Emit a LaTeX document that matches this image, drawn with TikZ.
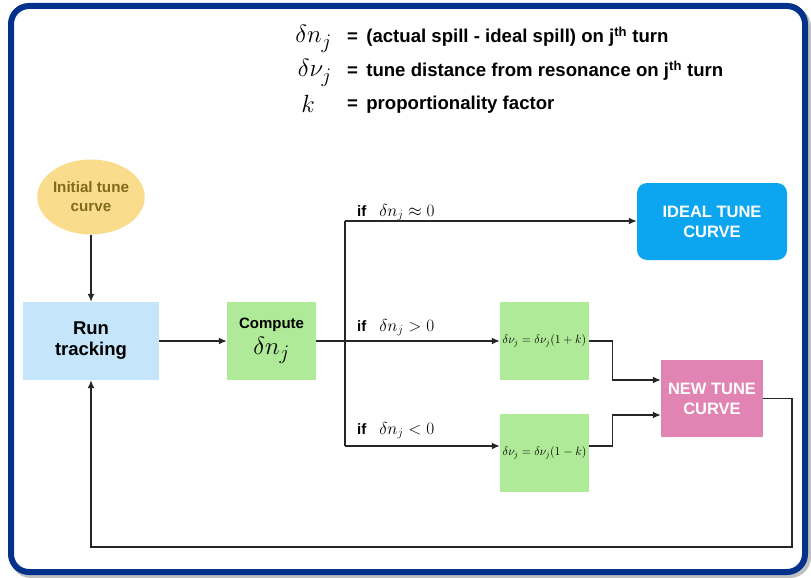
\documentclass[tikz,border=0pt]{standalone}
\usepackage{fontspec}
\setmainfont{Liberation Sans}
\usetikzlibrary{arrows.meta,shapes.geometric}
\definecolor{frameblue}{RGB}{4,50,138}
\definecolor{goldfill}{RGB}{249,220,140}
\definecolor{goldtext}{RGB}{128,106,30}
\definecolor{runblue}{RGB}{197,230,250}
\definecolor{stepgreen}{RGB}{174,234,152}
\definecolor{idealblue}{RGB}{12,166,240}
\definecolor{newpink}{RGB}{226,132,179}
\newcommand{\fs}[2]{\fontsize{#1}{#2}\selectfont}
\begin{document}
\begin{tikzpicture}[x=1pt,y=-1pt,
  box/.style={draw=none,inner sep=0pt,align=center,font=\bfseries},
  conn/.style={line width=1.4pt,black!85},
  arr/.style={conn,-{Latex[length=8pt,width=7pt]}},
  cond/.style={anchor=base west,inner sep=0pt},
  legend/.style={anchor=base west,inner sep=0pt,font=\bfseries\fs{18.6}{21}}]
\useasboundingbox (0,0) rectangle (811,578);
% outer frame with soft shadow
\draw[line width=6pt,black!25,rounded corners=18pt] (13,9) rectangle (808,575);
\draw[line width=6pt,frameblue,fill=white,rounded corners=18pt] (11,6) rectangle (805,572);

% definitions
\node[anchor=base east,inner sep=0pt] (dn) at (332,43) {\fs{29}{30}$\delta n_j$};
\node[anchor=base east,inner sep=0pt] (dv) at (332,77) {\fs{29}{30}$\delta \nu_j$};
\node[anchor=base east,inner sep=0pt] (kk) at (315,112) {\fs{29}{30}$k$};
\node[legend] (d1) at (347,43) {= \,(actual spill - ideal spill) on j\textsuperscript{th} turn};
\node[legend] (d2) at (347,77) {= \,tune distance from resonance on j\textsuperscript{th} turn};
\node[legend] (d3) at (347,110) {= \,proportionality factor};

% flow nodes
\node[ellipse,fill=goldfill,minimum width=88pt,minimum height=75pt,inner sep=0pt,align=center,
      font=\bfseries\fs{15.2}{19},text=goldtext] (init) at (91,197) {Initial tune\\curve};
\node[box,fill=runblue,minimum width=136pt,minimum height=78pt,font=\bfseries\fs{18.5}{21}] (run) at (91,341) {Run\\tracking};
\node[box,fill=stepgreen,minimum width=89pt,minimum height=78pt] (comp) at (271.5,341)
  {\fs{15}{18}Compute\\[5pt]\fs{32}{30}\mdseries$\delta n_j$};
\node[box,fill=idealblue,rounded corners=10pt,minimum width=150pt,minimum height=77pt,
      text=white,font=\bfseries\fs{16.5}{20}] (ideal) at (712,221.5) {IDEAL TUNE\\CURVE};
\node[box,fill=stepgreen,minimum width=89pt,minimum height=78pt,font=\fs{11.5}{13}] (g1) at (544.5,341)
  {$\delta\nu_j = \delta\nu_j(1+k)$};
\node[box,fill=stepgreen,minimum width=89pt,minimum height=78pt,font=\fs{11.5}{13}] (g2) at (544.5,453)
  {$\delta\nu_j = \delta\nu_j(1-k)$};
\node[box,fill=newpink,minimum width=102pt,minimum height=77pt,
      text=white,font=\bfseries\fs{16.5}{20}] (newt) at (712,398.5) {NEW TUNE\\CURVE};

% branch points
\coordinate (br) at (345,341);
\coordinate (btop) at (345,221);
\coordinate (bbot) at (345,446);
\coordinate (fb) at (792,547);

% condition labels
\node[cond] (c1) at (357,216) {\bfseries\fs{15}{16}if\hspace{13pt}\mdseries\fs{16.5}{18}$\delta n_j \approx 0$};
\node[cond] (c2) at (357,331) {\bfseries\fs{15}{16}if\hspace{13pt}\mdseries\fs{16.5}{18}$\delta n_j > 0$};
\node[cond] (c3) at (357,434) {\bfseries\fs{15}{16}if\hspace{13pt}\mdseries\fs{16.5}{18}$\delta n_j < 0$};

% connectors
\draw[arr] (init) -- (run);
\draw[arr] (run) -- (comp);
\draw[conn] (comp.east) -- (br);
\draw[conn] (btop) -- (bbot);
\draw[arr] (btop) -- (btop -| ideal.west);
\draw[arr] (br) -- (g1.west);
\draw[arr] (bbot) -- (bbot -| g2.west);
\draw[arr] (g1.east) -- ++(23,0) |- ([yshift=18.5pt]newt.west);
\draw[arr] (bbot -| g2.east) -- ++(23,0) |- ([yshift=-16.5pt]newt.west);
\draw[arr] (newt.east) -| (fb) -| (run.south);
\end{tikzpicture}
\end{document}
